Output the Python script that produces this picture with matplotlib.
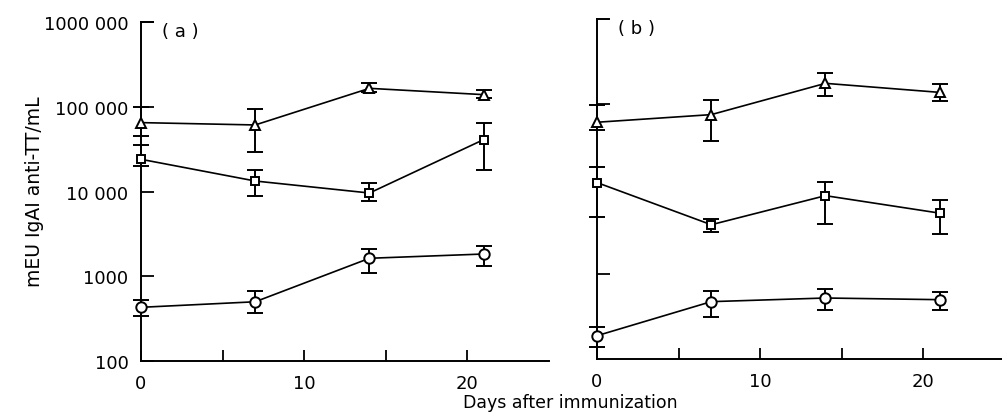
import matplotlib
matplotlib.use("Agg")
import matplotlib.pyplot as plt
import numpy as np

days = [0, 7, 14, 21]

# panel (a)
a_tri = [65000, 61000, 165000, 139000]
a_tri_lo = [45000, 29000, 148000, 126000]
a_tri_hi = [100000, 94000, 190000, 159000]
a_sq = [24000, 13300, 9600, 41000]
a_sq_lo = [20000, 8800, 7700, 17800]
a_sq_hi = [35000, 17900, 12500, 64000]
a_circ = [430, 500, 1630, 1830]
a_circ_lo = [337, 366, 1100, 1310]
a_circ_hi = [528, 664, 2100, 2270]

# panel (b)
b_tri = [61000, 75000, 175000, 137000]
b_tri_lo = [50000, 37000, 123000, 108000]
b_tri_hi = [97000, 112000, 232000, 172000]
b_sq = [11900, 3800, 8350, 5200]
b_sq_lo = [4640, 3150, 3870, 2930]
b_sq_hi = [18300, 4440, 12200, 7480]
b_circ = [188, 473, 522, 499]
b_circ_lo = [140, 315, 374, 380]
b_circ_hi = [236, 631, 671, 608]

ytick_vals = [100, 1000, 10000, 100000, 1000000]
ytick_labels = ["100", "1000", "10 000", "100 000", "1000 000"]

plt.rcParams["font.family"] = "DejaVu Sans"

fig = plt.figure(figsize=(10.02, 4.14), dpi=100)
ax_a = fig.add_axes([0.1407, 0.1256, 0.4072, 0.8188])
ax_b = fig.add_axes([0.5958, 0.1304, 0.4072, 0.8213])


def draw_series(ax, y, lo, hi, marker, ms):
    y = np.array(y, dtype=float)
    err = [y - np.array(lo), np.array(hi) - y]
    ax.errorbar(days, y, yerr=err, fmt="-", marker=marker, color="black",
                mfc="white", mec="black", mew=1.4, ms=ms, lw=1.2,
                elinewidth=1.4, capsize=6, capthick=1.4, clip_on=False, zorder=3)


def style(ax, label, right_ticks):
    ax.set_yscale("log")
    ax.set_ylim(100, 1000000)
    ax.set_xlim(0, 25)
    for s in ["top", "right"]:
        ax.spines[s].set_visible(False)
    ax.spines["left"].set_linewidth(1.4)
    ax.spines["bottom"].set_linewidth(1.4)
    ax.set_xticks([0, 5, 10, 15, 20])
    ax.set_xticklabels(["0", "", "10", "", "20"])
    ax.tick_params(axis="x", direction="in", length=8, width=1.3, labelsize=13, pad=9)
    ax.yaxis.set_minor_locator(matplotlib.ticker.NullLocator())
    ax.set_yticks(right_ticks)
    ax.tick_params(axis="y", direction="in", length=9, width=1.3, labelsize=13, pad=9)
    # top bar of the y axis
    ax.plot([0, 0.75], [1000000, 1000000], color="black", lw=1.4, clip_on=False)
    ax.text(1.3, 1000000, label, fontsize=13, va="top", ha="left")


draw_series(ax_a, a_tri, a_tri_lo, a_tri_hi, "^", 6.5)
draw_series(ax_a, a_sq, a_sq_lo, a_sq_hi, "s", 6)
draw_series(ax_a, a_circ, a_circ_lo, a_circ_hi, "o", 7.5)
style(ax_a, "( a )", ytick_vals)
ax_a.set_yticklabels(ytick_labels)

draw_series(ax_b, b_tri, b_tri_lo, b_tri_hi, "^", 6.5)
draw_series(ax_b, b_sq, b_sq_lo, b_sq_hi, "s", 6)
draw_series(ax_b, b_circ, b_circ_lo, b_circ_hi, "o", 7.5)
style(ax_b, "( b )", [1000, 100000])
ax_b.set_yticklabels([])

fig.text(35 / 1002, 1 - 192 / 414, "mEU IgAI anti-TT/mL", rotation=90,
         ha="center", va="center", fontsize=13.5)
fig.text(570 / 1002, 1 - 403 / 414, "Days after immunization",
         ha="center", va="center", fontsize=12.5)

fig.savefig("out.png", dpi=100)
